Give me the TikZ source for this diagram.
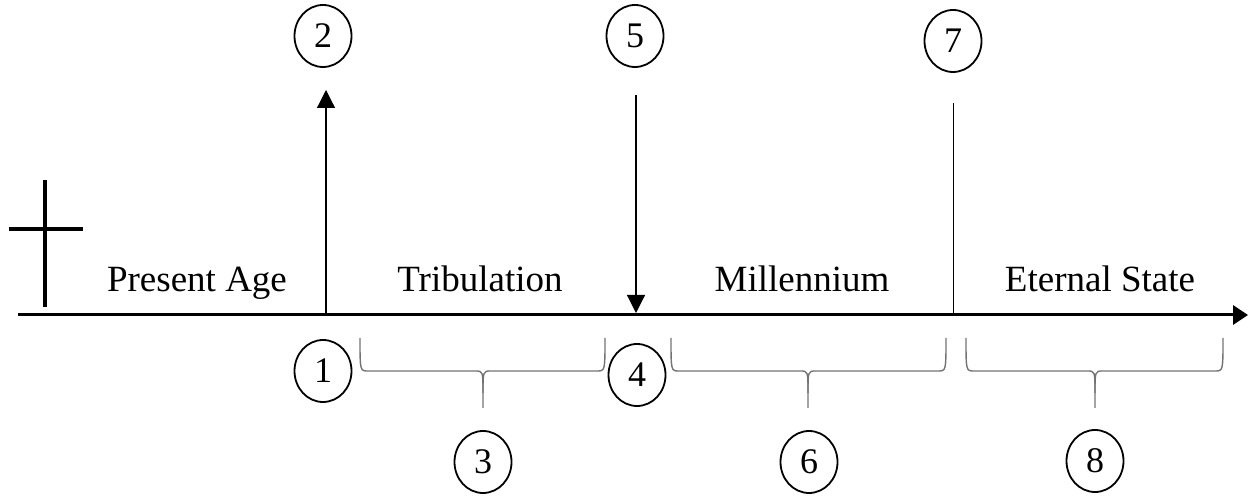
\documentclass[tikz,border=0pt]{standalone}
\usepackage{fontspec}
\setmainfont{Liberation Serif}
\usetikzlibrary{positioning}
\usetikzlibrary{arrows.meta}
\usetikzlibrary{shapes.geometric}
\tikzset{
    timeline/.style={
            x=0.5pt,y=-0.5pt,
            numbered/.style={draw,ellipse,line width=0.9pt,minimum width=28.5pt,minimum height=31pt,inner sep=0pt,font=\fontsize{18}{18}\selectfont},
            era/.style={anchor=base,font=\fontsize{18.5}{20}\selectfont},
            period/.style={draw=black!55,line width=0.7pt},
            arrow/.style={-{Triangle[length=9pt,width=9pt]},line width=0.6pt}
        }
    }
\newcommand{\erabrace}[3]{%
    \draw[period] (#1,338) .. controls (#1,371) .. (#1+8,371) -- (#2-8,371) .. controls (#2,371) .. (#2,393) -- (#2,408);
    \draw[period] (#2,393) .. controls (#2,371) .. (#2+8,371) -- (#3-8,371) .. controls (#3,371) .. (#3,338);
}

\begin{document}
\begin{tikzpicture}[timeline]
                \useasboundingbox (0,0) rectangle (1248,496);
                % axis and cross
                \coordinate (start) at (18,315);
                \coordinate (end) at (1248,315);
                \draw [-{Triangle[length=7.5pt,width=9.5pt]},line width=1.5pt] (start) -- (end);
                \draw [line width=2pt] (45,180) -- (45,307);
                \draw [line width=2pt] (9,229) -- (83,229);
                % eras
                \node[era] (present) at (197,292) {Present Age};
                \node[era] (trib) at (480,292) {Tribulation};
                \node[era] (mill) at (802,292) {Millennium};
                \node[era] (eternal) at (1100,292) {Eternal State};
                % numbers
                \node[numbered] (n1) at (323,371) {1};
                \node[numbered] (n2) at (323,36) {2};
                \node[numbered] (n3) at (483,462) {3};
                \node[numbered] (n4) at (637,375) {4};
                \node[numbered] (n5) at (635,36) {5};
                \node[numbered] (n6) at (809,462) {6};
                \node[numbered] (n7) at (953,41) {7};
                \node[numbered] (n8) at (1095,461) {8};
                % events
                \coordinate (rapture) at (326,315);
                \coordinate (rapture top) at (326,90);
                \draw [arrow] (rapture) -- (rapture top);
                \coordinate (return top) at (636,95);
                \coordinate (return) at (636,313);
                \draw [arrow] (return top) -- (return);
                \coordinate (judgement top) at (953,103);
                \coordinate (judgement) at (953,315);
                \draw [line width=0.5pt] (judgement top) -- (judgement);
                % periods
                \erabrace{360}{483}{605}
                \erabrace{671}{808}{946}
                \erabrace{966}{1095}{1223}
            \end{tikzpicture}
\end{document}
